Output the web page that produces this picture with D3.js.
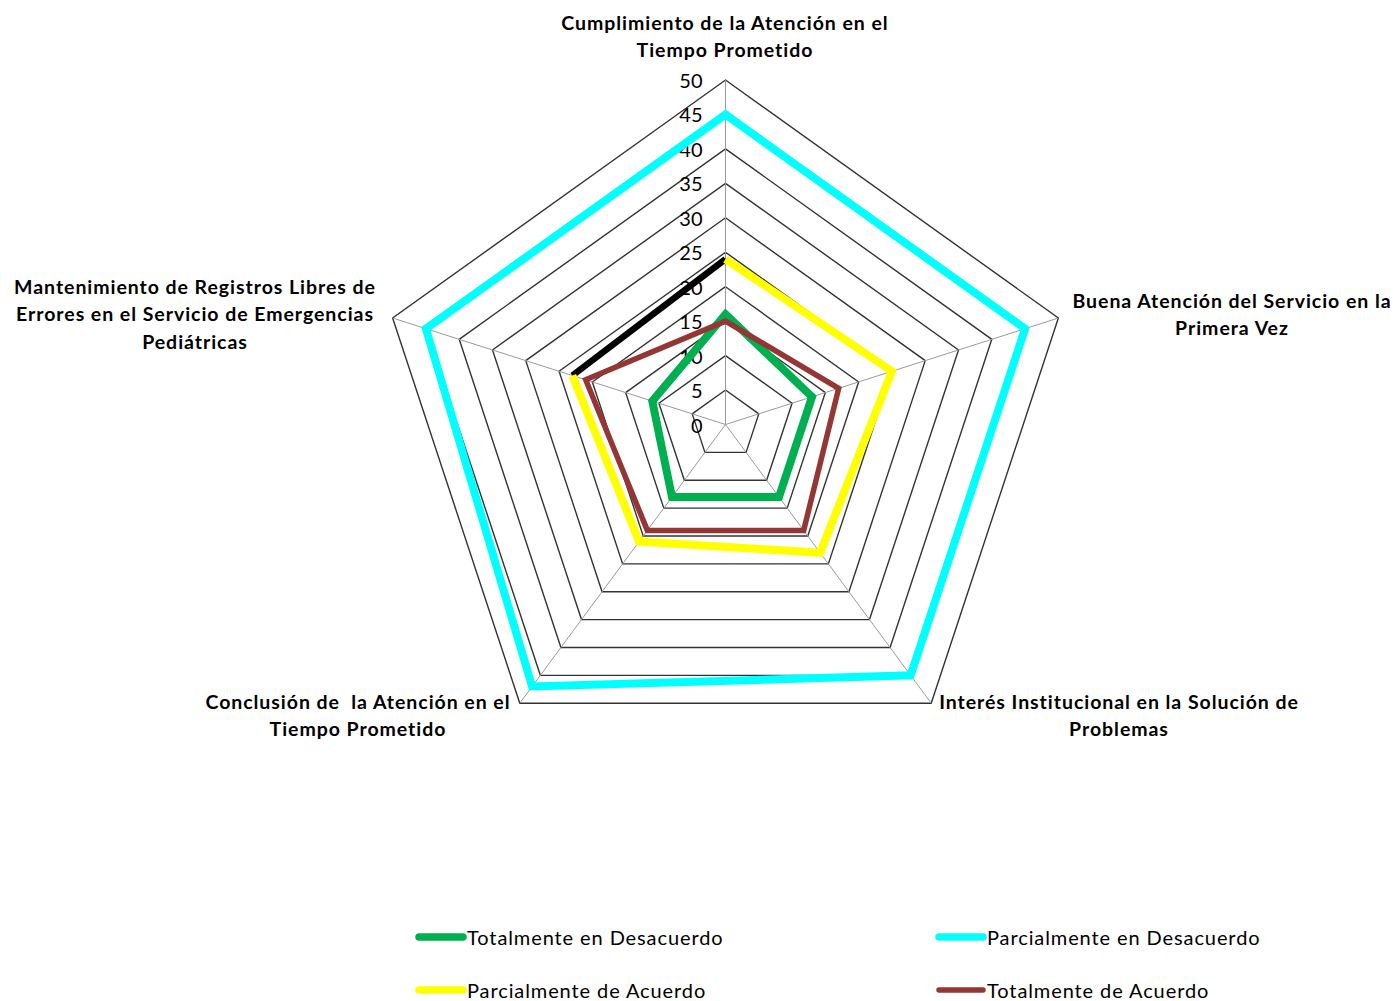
<!DOCTYPE html>
<html>
<head>
<meta charset="utf-8">
<script src="https://cdn.jsdelivr.net/npm/d3@7"></script>
<style>
  html, body { margin: 0; padding: 0; background: #fff; }
  svg { display: block; }
  text { font-family: Lato, "Open Sans", "Liberation Sans", sans-serif; fill: #000; white-space: pre; }
</style>
</head>
<body>
<svg id="chart" width="1393" height="1001"></svg>
<script>
// ---- DATA ----
const categories = [
  ["Cumplimiento de la Atención en el", "Tiempo Prometido"],
  ["Buena Atención del Servicio en la", "Primera Vez"],
  ["Interés Institucional en la Solución de", "Problemas"],
  ["Conclusión de  la Atención en el", "Tiempo Prometido"],
  ["Mantenimiento de Registros Libres de", "Errores en el Servicio de Emergencias", "Pediátricas"]
];
const seriesNames = [
  "Totalmente en Desacuerdo",
  "Parcialmente en Desacuerdo",
  "Parcialmente de Acuerdo",
  "Totalmente de Acuerdo"
];
const totalmenteDesacuerdo = [16, 13, 13, 13, 11];
const parcialmenteDesacuerdo = [45, 45, 45, 47, 45];
const parcialmenteAcuerdo = [24, 25, 23, 21, 23];
const totalmenteAcuerdo = [15, 17, 19, 19, 21];
const tickValues = [0, 5, 10, 15, 20, 25, 30, 35, 40, 45, 50];
const colors = ["#00B050", "#00FFFF", "#FFFF00", "#943634"];

// ---- LAYOUT ----
const svg = d3.select("#chart");
const cx = 725.5, cy = 424.5;
const rX = d3.scaleLinear().domain([0, 50]).range([0, 350]);
const rY = d3.scaleLinear().domain([0, 50]).range([0, 344.5]);
const angle = d3.scaleLinear().domain([0, categories.length]).range([0, 2 * Math.PI]);
const pt = (v, i) => [cx + rX(v) * Math.sin(angle(i)), cy - rY(v) * Math.cos(angle(i))];

const g = svg.append("g");

// rings
tickValues.filter(t => t > 0).forEach(t => {
  const pts = categories.map((c, i) => pt(t, i));
  g.append("path")
    .attr("d", d3.line()(pts) + "Z")
    .attr("fill", "none")
    .attr("stroke", "#333")
    .attr("stroke-width", 1.4);
});
// spokes
categories.forEach((c, i) => {
  const [x, y] = pt(50, i);
  g.append("line")
    .attr("x1", cx).attr("y1", cy).attr("x2", x).attr("y2", y)
    .attr("stroke", "#9a9a9a").attr("stroke-width", 1);
});

// tick labels
tickValues.forEach(t => {
  const [x, y] = pt(t, 0);
  g.append("text")
    .attr("x", x - 23).attr("y", y)
    .attr("text-anchor", "end")
    .attr("dominant-baseline", "central")
    .style("font-size", "20px")
    .text(t);
});

// series
const data = [totalmenteDesacuerdo, parcialmenteDesacuerdo, parcialmenteAcuerdo, totalmenteAcuerdo];
const widths = [8, 8, 8, 5.5];
const line = d3.line();
data.forEach((vals, s) => {
  const pts = vals.map((v, i) => pt(v, i));
  if (s === 2) {
    // closing edge of this series appears in black in the original
    g.append("path")
      .attr("d", line([pts[pts.length - 1], pts[0]]))
      .attr("fill", "none").attr("stroke", "#000").attr("stroke-width", 6.5);
    g.append("path")
      .attr("d", line(pts))
      .attr("fill", "none").attr("stroke", colors[s])
      .attr("stroke-width", widths[s]).attr("stroke-linejoin", "miter");
  } else {
    g.append("path")
      .attr("d", line(pts) + "Z")
      .attr("fill", "none").attr("stroke", colors[s])
      .attr("stroke-width", widths[s]).attr("stroke-linejoin", "miter");
  }
});

// category labels
const labelPos = [
  { x: 725, y: 22 },
  { x: 1232, y: 300 },
  { x: 1119, y: 701 },
  { x: 358, y: 701 },
  { x: 195, y: 286 }
];
categories.forEach((lines, i) => {
  const t = svg.append("text")
    .attr("text-anchor", "middle")
    .attr("xml:space", "preserve")
    .style("font-size", "19.5px")
    .style("font-weight", "700")
    .style("letter-spacing", "0.95px");
  lines.forEach((l, k) => {
    t.append("tspan")
      .attr("x", labelPos[i].x)
      .attr("y", labelPos[i].y + k * 27.5)
      .attr("dominant-baseline", "central")
      .text(l);
  });
});

// legend
const legendPos = [
  { x: 416, y: 937 }, { x: 936, y: 937 },
  { x: 416, y: 990 }, { x: 936, y: 990 }
];
seriesNames.forEach((n, s) => {
  const p = legendPos[s];
  svg.append("line")
    .attr("x1", p.x + 3).attr("x2", p.x + 47)
    .attr("y1", p.y).attr("y2", p.y)
    .attr("stroke", colors[s]).attr("stroke-width", s === 3 ? 5.5 : 7.5)
    .attr("stroke-linecap", "round");
  svg.append("text")
    .attr("x", p.x + 51).attr("y", p.y)
    .attr("dominant-baseline", "central")
    .style("font-size", "20px")
    .style("letter-spacing", "0.9px")
    .text(n);
});
</script>
</body>
</html>
